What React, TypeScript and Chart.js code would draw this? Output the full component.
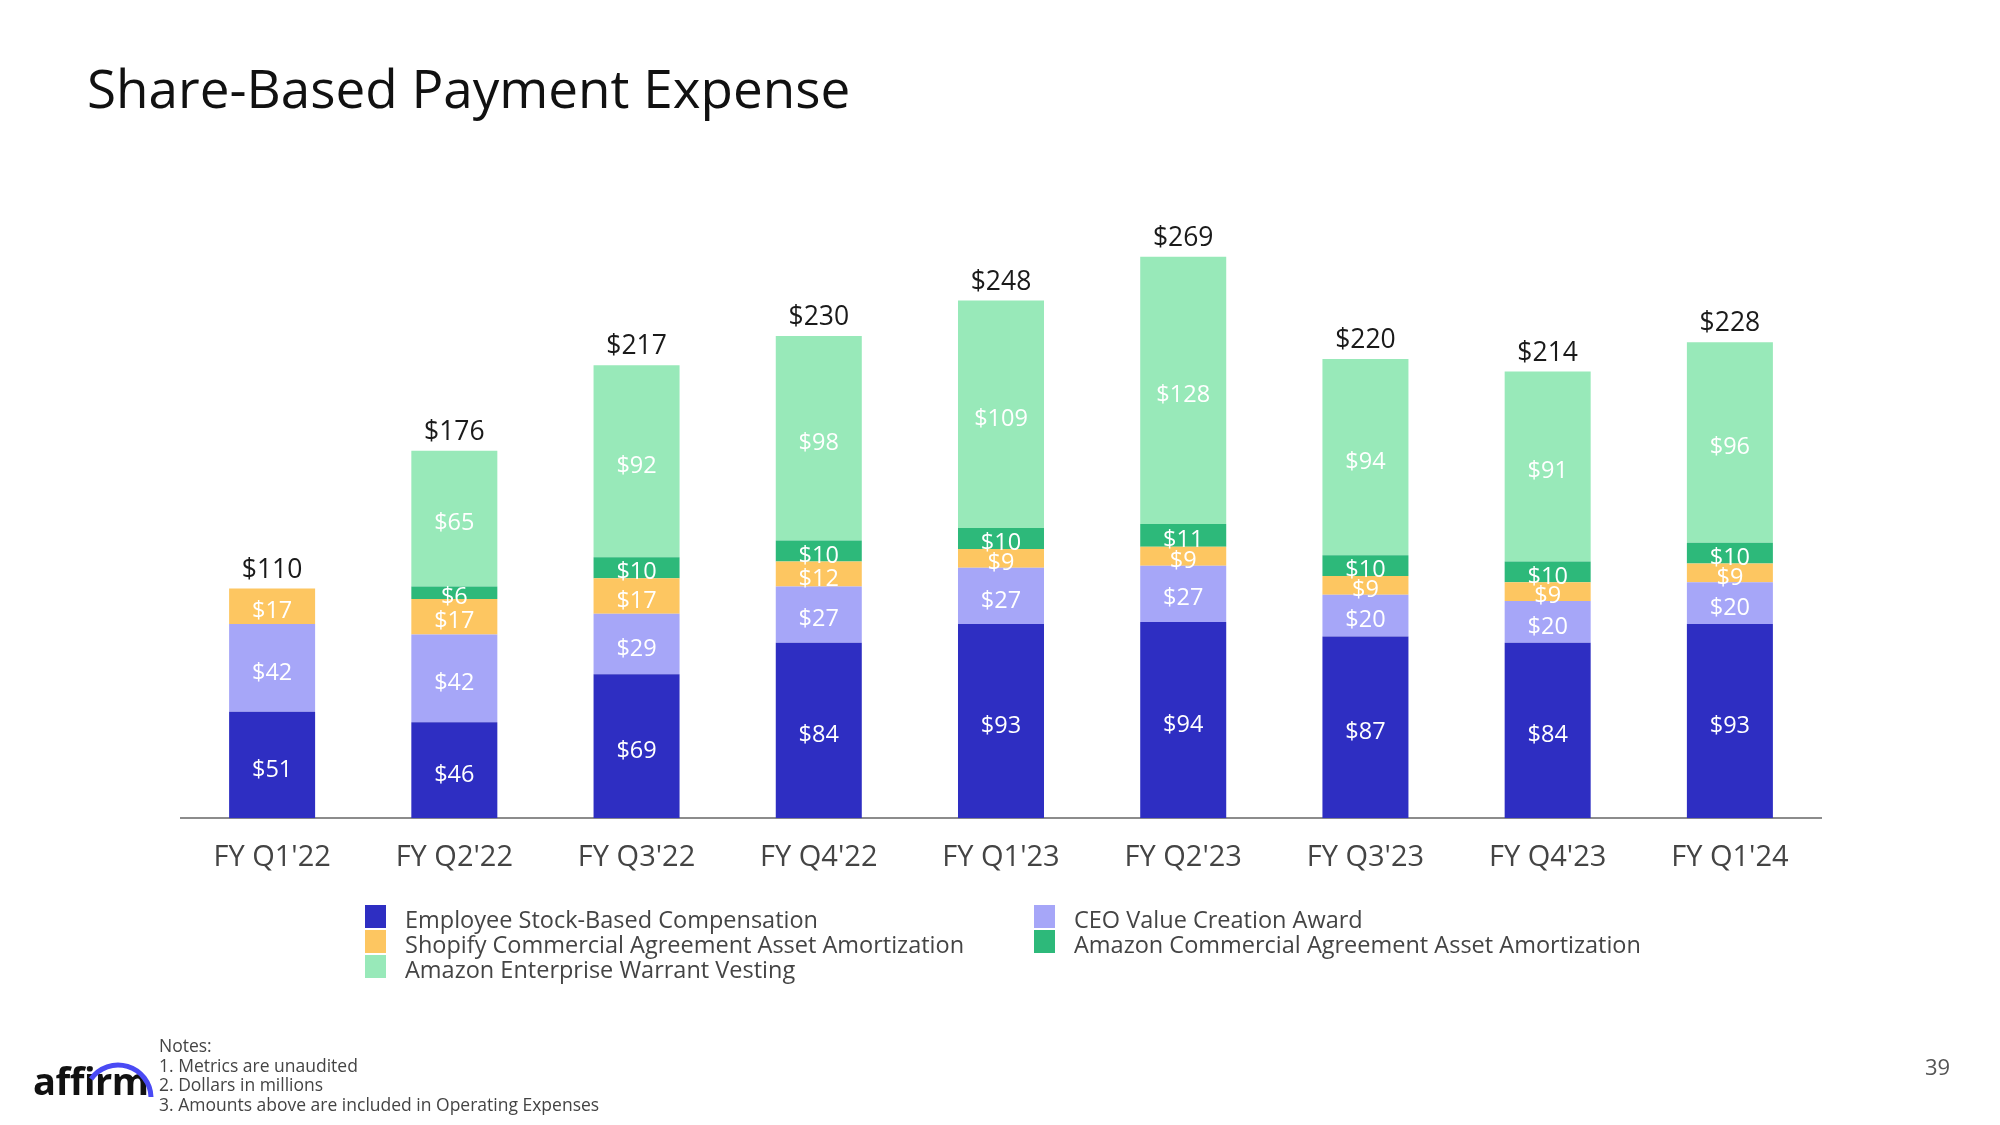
import React, { useEffect, useRef } from "react";
import { Chart, registerables } from "chart.js";

Chart.register(...registerables);

const categories = ["FY Q1'22", "FY Q2'22", "FY Q3'22", "FY Q4'22", "FY Q1'23", "FY Q2'23", "FY Q3'23", "FY Q4'23", "FY Q1'24"];
const employeeSBC = [51, 46, 69, 84, 93, 94, 87, 84, 93];
const ceoAward = [42, 42, 29, 27, 27, 27, 20, 20, 20];
const shopifyAmort = [17, 17, 17, 12, 9, 9, 9, 9, 9];
const amazonCommercial = [0, 6, 10, 10, 10, 11, 10, 10, 10];
const amazonWarrant = [0, 65, 92, 98, 109, 128, 94, 91, 96];
const totals = [110, 176, 217, 230, 248, 269, 220, 214, 228];

const seriesLabels = [
  "Employee Stock-Based Compensation",
  "CEO Value Creation Award",
  "Shopify Commercial Agreement Asset Amortization",
  "Amazon Commercial Agreement Asset Amortization",
  "Amazon Enterprise Warrant Vesting",
];
const seriesColors = ["#2e2ec2", "#a6a6f8", "#fdc661", "#2db97a", "#98e9b9"];
const seriesValues = [employeeSBC, ceoAward, shopifyAmort, amazonCommercial, amazonWarrant];

const legendOrder = [0, 1, 2, 3, 4];

const notes = ["Notes:", "1. Metrics are unaudited", "2. Dollars in millions", "3. Amounts above are included in Operating Expenses"];

const FONT = "'Open Sans', 'DejaVu Sans', sans-serif";

const labelsPlugin = {
  id: "stackLabels",
  afterDatasetsDraw(chart: any) {
    const ctx = chart.ctx;
    const yScale = chart.scales.y;
    ctx.save();
    ctx.textAlign = "center";
    ctx.textBaseline = "middle";
    chart.data.datasets.forEach((ds: any, di: number) => {
      const meta = chart.getDatasetMeta(di);
      meta.data.forEach((el: any, i: number) => {
        const v = ds.data[i];
        if (!v) return;
        const props = el.getProps(["x", "y", "base"], true);
        ctx.font = `23.5px ${FONT}`;
        ctx.fillStyle = "#ffffff";
        ctx.fillText("$" + v, props.x, (props.y + props.base) / 2 + 5);
      });
    });
    const meta0 = chart.getDatasetMeta(0);
    categories.forEach((_, i) => {
      let sum = 0;
      seriesValues.forEach((s) => (sum += s[i]));
      const y = yScale.getPixelForValue(sum);
      const x = meta0.data[i].x;
      ctx.font = `26.5px ${FONT}`;
      ctx.fillStyle = "#1a1a1a";
      ctx.textBaseline = "alphabetic";
      ctx.fillText("$" + totals[i], x, y - 11);
    });
    ctx.restore();
  },
};

function ChartCanvas() {
  const ref = useRef<HTMLCanvasElement | null>(null);
  useEffect(() => {
    if (!ref.current) return;
    const chart = new Chart(ref.current, {
      type: "bar",
      data: {
        labels: categories,
        datasets: seriesValues.map((vals, i) => ({
          label: seriesLabels[i],
          data: vals,
          backgroundColor: seriesColors[i],
          borderWidth: 0,
          categoryPercentage: 1,
          barPercentage: 0.472,
        })),
      },
      options: {
        responsive: false,
        animation: false,
        maintainAspectRatio: false,
        layout: { padding: { left: 181, right: 179, top: 192, bottom: 236 } },
        plugins: { legend: { display: false }, tooltip: { enabled: false } },
        scales: {
          x: {
            stacked: true,
            grid: { display: false },
            border: { display: true, color: "#8c8c8c", width: 2 },
            ticks: { color: "#444444", font: { family: FONT, size: 29 }, padding: 14 },
          },
          y: {
            stacked: true,
            display: false,
            min: 0,
            max: 300,
          },
        },
      },
      plugins: [labelsPlugin],
    });
    return () => chart.destroy();
  }, []);
  return <canvas ref={ref} width={2000} height={1125} style={{ position: "absolute", left: 0, top: 0, width: 2000, height: 1125 }} />;
}

export default function App() {
  const legendPos = [
    { x: 365, y: 905 },
    { x: 1034, y: 905 },
    { x: 365, y: 930 },
    { x: 1034, y: 930 },
    { x: 365, y: 955 },
  ];
  return (
    <div style={{ position: "absolute", left: 0, top: 0, width: 2000, height: 1125, background: "#ffffff", overflow: "hidden", fontFamily: FONT }}>
      <ChartCanvas />
      <div style={{ position: "absolute", left: 87, top: 61, fontSize: 53, lineHeight: "53px", color: "#111111", whiteSpace: "nowrap" }}>
        Share-Based Payment Expense
      </div>
      {legendOrder.map((si, k) => (
        <div key={si} style={{ position: "absolute", left: legendPos[k].x, top: legendPos[k].y, height: 23, display: "flex", alignItems: "center", whiteSpace: "nowrap" }}>
          <div style={{ width: 21, height: 23, background: seriesColors[si] }} />
          <div style={{ marginLeft: 19, fontSize: 23.5, color: "#444444", lineHeight: "23px", position: "relative", top: 3 }}>{seriesLabels[si]}</div>
        </div>
      ))}
      <div style={{ position: "absolute", left: 159, top: 1036, fontSize: 17.5, lineHeight: "19.5px", color: "#444444", whiteSpace: "nowrap" }}>
        {notes.map((n, i) => (
          <div key={i}>{n}</div>
        ))}
      </div>
      <div style={{ position: "absolute", left: 33, top: 1060, fontSize: 38, fontWeight: 700, color: "#111111", lineHeight: "40px", letterSpacing: -0.5 }}>
        affirm
      </div>
      <svg width={200} height={120} style={{ position: "absolute", left: 0, top: 1005 }}>
        <path d="M 91 74 A 33 33 0 0 1 151 92" fill="none" stroke="#4a4af4" strokeWidth={5} />
      </svg>
      <div style={{ position: "absolute", left: 1925, top: 1051, fontSize: 22, color: "#555555" }}>39</div>
    </div>
  );
}
